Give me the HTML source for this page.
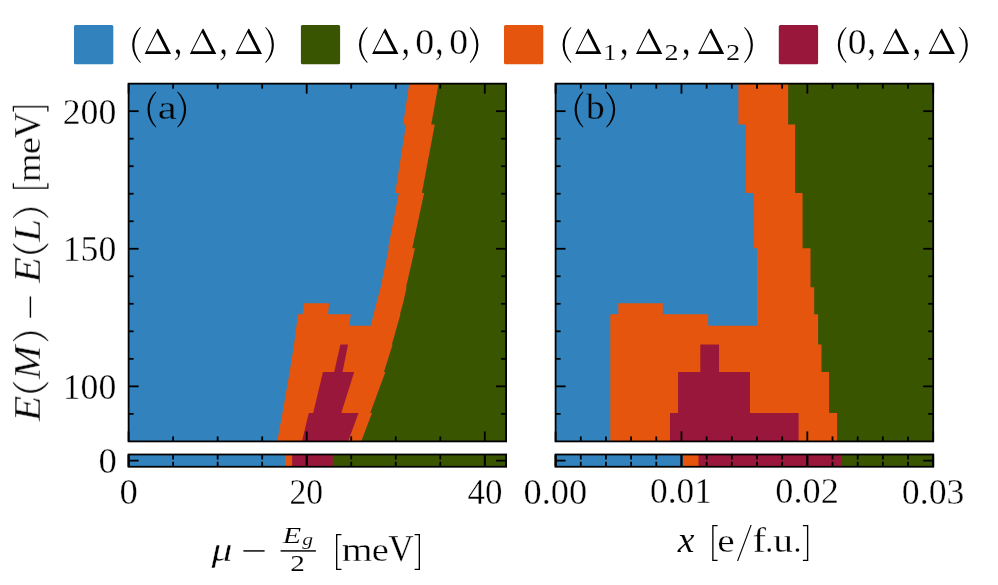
<!DOCTYPE html>
<html><head><meta charset="utf-8"><title>Phase diagram</title>
<style>
html,body{margin:0;padding:0;background:#fff;}
body{width:998px;height:585px;overflow:hidden;font-family:"Liberation Serif",serif;}
svg{display:block;}
text{font-family:"Liberation Serif",serif;fill:#000;}
.i{font-style:italic;}
</style></head><body>
<svg width="998" height="585" viewBox="0 0 998 585">
<rect x="0" y="0" width="998" height="585" fill="#fff"/>
<g>
<rect x="128.6" y="83.65" width="377.5" height="357.75" fill="#3182bd"/>
<polygon points="409.18,83.65 403.14,124.45 406.05,124.45 395.18,193 398.8,193 388.14,248.3 388.84,248.3 380.66,287.2 380.65,287.2 376.35,303.3 303.92,303.3 302.63,314.25 297.98,314.25 296.45,325.85 296.45,325.85 294.03,344.5 294.04,344.5 289.64,372 289.64,372 282.49,413 282.49,413 277.23,441.4 506.1,441.4 506.1,83.65" fill="#e6550d"/>
<polygon points="329.24,302 376.67,302 376.35,303.3 373.66,314.25 328.12,314.25 329.12,303.3" fill="#3182bd"/>
<polygon points="350.84,314.25 350.84,314.25 350.84,312.95 373.66,312.95 373.66,314.25 373.66,314.25 370.71,325.85 349.05,325.85" fill="#3182bd"/>
<polygon points="438.57,83.65 431.25,124.45 434.76,124.45 421.89,193 424.11,193 412.24,248.3 414.95,248.3 406.05,287.2 406.66,287.2 403.04,303.3 403.06,303.3 399.97,314.25 400.47,314.25 397.2,325.85 397.2,325.85 391.87,344.5 392.58,344.5 383.93,372 385.39,372 370.23,413 371.99,413 361.15,441.4 506.1,441.4 506.1,83.65" fill="#3a5500"/>
<polygon points="340.41,344.5 334.16,372 322.96,372 313.22,413 308.82,413 301.9,441.4 348.1,441.4 358.58,413 341.26,413 354.18,372 342.55,372 348.05,344.5" fill="#99173a"/>
<rect x="555.6" y="83.65" width="377.6" height="357.75" fill="#3182bd"/>
<polygon points="738.4,83.65 738.4,124.45 745.9,124.45 745.9,193 754,193 754,248.3 757,248.3 757,287.2 757,287.2 757,303.3 618.3,303.3 618.3,314.25 610.3,314.25 610.3,325.85 610.3,325.85 610.3,344.5 610.3,344.5 610.3,372 610.3,372 610.3,413 610.3,413 610.3,441.4 933.2,441.4 933.2,83.65" fill="#e6550d"/>
<polygon points="662.8,302 757,302 757,303.3 757,314.25 662.8,314.25 662.8,303.3" fill="#3182bd"/>
<polygon points="708.2,314.25 708.2,314.25 708.2,312.95 757,312.95 757,314.25 757,314.25 757,325.85 708.2,325.85" fill="#3182bd"/>
<polygon points="788.15,83.65 788.15,124.45 795.15,124.45 795.15,193 802.6,193 802.6,248.3 810.5,248.3 810.5,287.2 814.2,287.2 814.2,303.3 814.2,303.3 814.2,314.25 818.1,314.25 818.1,325.85 818.1,325.85 818.1,344.5 821.5,344.5 821.5,372 829.05,372 829.05,413 837.1,413 837.1,441.4 933.2,441.4 933.2,83.65" fill="#3a5500"/>
<polygon points="700.3,344.5 700.3,372 678.1,372 678.1,413 670,413 670,441.4 798.6,441.4 798.6,413 750,413 750,372 719.05,372 719.05,344.5" fill="#99173a"/>
<rect x="128.6" y="454.5" width="377.5" height="12.25" fill="#3182bd"/>
<rect x="285.1" y="454.5" width="221" height="12.25" fill="#e6550d"/>
<rect x="292.1" y="454.5" width="214" height="12.25" fill="#99173a"/>
<rect x="332.8" y="454.5" width="173.3" height="12.25" fill="#3a5500"/>
<rect x="555.6" y="454.5" width="377.6" height="12.25" fill="#3182bd"/>
<rect x="683.1" y="454.5" width="250.1" height="12.25" fill="#e6550d"/>
<rect x="698.5" y="454.5" width="234.7" height="12.25" fill="#99173a"/>
<rect x="842" y="454.5" width="91.2" height="12.25" fill="#3a5500"/>
</g>
<g stroke="#000" stroke-width="1.8" fill="none" stroke-linecap="butt">
<path d="M128.6 441.4L128.6 431.4"/>
<path d="M128.6 83.65L128.6 93.65"/>
<path d="M128.6 466.75L128.6 454.5"/>
<path d="M128.6 454.5L128.6 466.75"/>
<path d="M306.7 441.4L306.7 431.4"/>
<path d="M306.7 83.65L306.7 93.65"/>
<path d="M306.7 466.75L306.7 454.5"/>
<path d="M306.7 454.5L306.7 466.75"/>
<path d="M484.8 441.4L484.8 431.4"/>
<path d="M484.8 83.65L484.8 93.65"/>
<path d="M484.8 466.75L484.8 454.5"/>
<path d="M484.8 454.5L484.8 466.75"/>
<path d="M173.12 441.4L173.12 436.4"/>
<path d="M173.12 83.65L173.12 88.65"/>
<path d="M173.12 466.75L173.12 461.75"/>
<path d="M173.12 454.5L173.12 459.5"/>
<path d="M217.65 441.4L217.65 436.4"/>
<path d="M217.65 83.65L217.65 88.65"/>
<path d="M217.65 466.75L217.65 461.75"/>
<path d="M217.65 454.5L217.65 459.5"/>
<path d="M262.18 441.4L262.18 436.4"/>
<path d="M262.18 83.65L262.18 88.65"/>
<path d="M262.18 466.75L262.18 461.75"/>
<path d="M262.18 454.5L262.18 459.5"/>
<path d="M351.23 441.4L351.23 436.4"/>
<path d="M351.23 83.65L351.23 88.65"/>
<path d="M351.23 466.75L351.23 461.75"/>
<path d="M351.23 454.5L351.23 459.5"/>
<path d="M395.75 441.4L395.75 436.4"/>
<path d="M395.75 83.65L395.75 88.65"/>
<path d="M395.75 466.75L395.75 461.75"/>
<path d="M395.75 454.5L395.75 459.5"/>
<path d="M440.28 441.4L440.28 436.4"/>
<path d="M440.28 83.65L440.28 88.65"/>
<path d="M440.28 466.75L440.28 461.75"/>
<path d="M440.28 454.5L440.28 459.5"/>
<path d="M555.6 441.4L555.6 431.4"/>
<path d="M555.6 83.65L555.6 93.65"/>
<path d="M555.6 466.75L555.6 454.5"/>
<path d="M555.6 454.5L555.6 466.75"/>
<path d="M681.47 441.4L681.47 431.4"/>
<path d="M681.47 83.65L681.47 93.65"/>
<path d="M681.47 466.75L681.47 454.5"/>
<path d="M681.47 454.5L681.47 466.75"/>
<path d="M807.33 441.4L807.33 431.4"/>
<path d="M807.33 83.65L807.33 93.65"/>
<path d="M807.33 466.75L807.33 454.5"/>
<path d="M807.33 454.5L807.33 466.75"/>
<path d="M933.2 441.4L933.2 431.4"/>
<path d="M933.2 83.65L933.2 93.65"/>
<path d="M933.2 466.75L933.2 454.5"/>
<path d="M933.2 454.5L933.2 466.75"/>
<path d="M580.77 441.4L580.77 436.4"/>
<path d="M580.77 83.65L580.77 88.65"/>
<path d="M580.77 466.75L580.77 461.75"/>
<path d="M580.77 454.5L580.77 459.5"/>
<path d="M605.95 441.4L605.95 436.4"/>
<path d="M605.95 83.65L605.95 88.65"/>
<path d="M605.95 466.75L605.95 461.75"/>
<path d="M605.95 454.5L605.95 459.5"/>
<path d="M631.12 441.4L631.12 436.4"/>
<path d="M631.12 83.65L631.12 88.65"/>
<path d="M631.12 466.75L631.12 461.75"/>
<path d="M631.12 454.5L631.12 459.5"/>
<path d="M656.29 441.4L656.29 436.4"/>
<path d="M656.29 83.65L656.29 88.65"/>
<path d="M656.29 466.75L656.29 461.75"/>
<path d="M656.29 454.5L656.29 459.5"/>
<path d="M706.64 441.4L706.64 436.4"/>
<path d="M706.64 83.65L706.64 88.65"/>
<path d="M706.64 466.75L706.64 461.75"/>
<path d="M706.64 454.5L706.64 459.5"/>
<path d="M731.81 441.4L731.81 436.4"/>
<path d="M731.81 83.65L731.81 88.65"/>
<path d="M731.81 466.75L731.81 461.75"/>
<path d="M731.81 454.5L731.81 459.5"/>
<path d="M756.99 441.4L756.99 436.4"/>
<path d="M756.99 83.65L756.99 88.65"/>
<path d="M756.99 466.75L756.99 461.75"/>
<path d="M756.99 454.5L756.99 459.5"/>
<path d="M782.16 441.4L782.16 436.4"/>
<path d="M782.16 83.65L782.16 88.65"/>
<path d="M782.16 466.75L782.16 461.75"/>
<path d="M782.16 454.5L782.16 459.5"/>
<path d="M832.51 441.4L832.51 436.4"/>
<path d="M832.51 83.65L832.51 88.65"/>
<path d="M832.51 466.75L832.51 461.75"/>
<path d="M832.51 454.5L832.51 459.5"/>
<path d="M857.68 441.4L857.68 436.4"/>
<path d="M857.68 83.65L857.68 88.65"/>
<path d="M857.68 466.75L857.68 461.75"/>
<path d="M857.68 454.5L857.68 459.5"/>
<path d="M882.85 441.4L882.85 436.4"/>
<path d="M882.85 83.65L882.85 88.65"/>
<path d="M882.85 466.75L882.85 461.75"/>
<path d="M882.85 454.5L882.85 459.5"/>
<path d="M908.03 441.4L908.03 436.4"/>
<path d="M908.03 83.65L908.03 88.65"/>
<path d="M908.03 466.75L908.03 461.75"/>
<path d="M908.03 454.5L908.03 459.5"/>
<path d="M128.6 413.88L133.6 413.88"/>
<path d="M506.1 413.88L501.1 413.88"/>
<path d="M128.6 386.36L138.6 386.36"/>
<path d="M506.1 386.36L496.1 386.36"/>
<path d="M128.6 358.84L133.6 358.84"/>
<path d="M506.1 358.84L501.1 358.84"/>
<path d="M128.6 331.32L133.6 331.32"/>
<path d="M506.1 331.32L501.1 331.32"/>
<path d="M128.6 303.8L133.6 303.8"/>
<path d="M506.1 303.8L501.1 303.8"/>
<path d="M128.6 276.28L133.6 276.28"/>
<path d="M506.1 276.28L501.1 276.28"/>
<path d="M128.6 248.77L138.6 248.77"/>
<path d="M506.1 248.77L496.1 248.77"/>
<path d="M128.6 221.25L133.6 221.25"/>
<path d="M506.1 221.25L501.1 221.25"/>
<path d="M128.6 193.73L133.6 193.73"/>
<path d="M506.1 193.73L501.1 193.73"/>
<path d="M128.6 166.21L133.6 166.21"/>
<path d="M506.1 166.21L501.1 166.21"/>
<path d="M128.6 138.69L133.6 138.69"/>
<path d="M506.1 138.69L501.1 138.69"/>
<path d="M128.6 111.17L138.6 111.17"/>
<path d="M506.1 111.17L496.1 111.17"/>
<path d="M128.6 460.62L138.6 460.62"/>
<path d="M506.1 460.62L496.1 460.62"/>
<path d="M555.6 413.88L560.6 413.88"/>
<path d="M933.2 413.88L928.2 413.88"/>
<path d="M555.6 386.36L565.6 386.36"/>
<path d="M933.2 386.36L923.2 386.36"/>
<path d="M555.6 358.84L560.6 358.84"/>
<path d="M933.2 358.84L928.2 358.84"/>
<path d="M555.6 331.32L560.6 331.32"/>
<path d="M933.2 331.32L928.2 331.32"/>
<path d="M555.6 303.8L560.6 303.8"/>
<path d="M933.2 303.8L928.2 303.8"/>
<path d="M555.6 276.28L560.6 276.28"/>
<path d="M933.2 276.28L928.2 276.28"/>
<path d="M555.6 248.77L565.6 248.77"/>
<path d="M933.2 248.77L923.2 248.77"/>
<path d="M555.6 221.25L560.6 221.25"/>
<path d="M933.2 221.25L928.2 221.25"/>
<path d="M555.6 193.73L560.6 193.73"/>
<path d="M933.2 193.73L928.2 193.73"/>
<path d="M555.6 166.21L560.6 166.21"/>
<path d="M933.2 166.21L928.2 166.21"/>
<path d="M555.6 138.69L560.6 138.69"/>
<path d="M933.2 138.69L928.2 138.69"/>
<path d="M555.6 111.17L565.6 111.17"/>
<path d="M933.2 111.17L923.2 111.17"/>
<path d="M555.6 460.62L565.6 460.62"/>
<path d="M933.2 460.62L923.2 460.62"/>
<rect x="128.6" y="83.65" width="377.5" height="357.75"/>
<rect x="128.6" y="454.5" width="377.5" height="12.25"/>
<rect x="555.6" y="83.65" width="377.6" height="357.75"/>
<rect x="555.6" y="454.5" width="377.6" height="12.25"/>
</g>
<g opacity="0.999">
<rect x="74" y="24.9" width="39.3" height="39.3" rx="1.5" fill="#3182bd"/>
<rect x="300.9" y="24.9" width="39.2" height="39.3" rx="1.5" fill="#3a5500"/>
<rect x="504" y="24.9" width="39.3" height="39.3" rx="1.5" fill="#e6550d"/>
<rect x="778.8" y="24.9" width="39.3" height="39.3" rx="1.5" fill="#99173a"/>
<path d="M140.3 27A23.939 23.939 0 0 0 140.3 62.9L140.85 62.3A26.406 26.406 0 0 1 140.85 27.6Z"/>
<path fill-rule="evenodd" d="M144.7 54L157.471 28.7L158.271 28.7L171.1 54ZM147.128 51.3L156.787 32.5L166.447 51.3Z"/>
<text transform="matrix(0.345 0 0 0.451 173.821 54.135)" font-size="100" stroke="#fff" stroke-width="0.88">,</text>
<path fill-rule="evenodd" d="M189.9 54L202.671 28.7L203.471 28.7L216.3 54ZM192.328 51.3L201.987 32.5L211.647 51.3Z"/>
<text transform="matrix(0.352 0 0 0.451 219.293 54.135)" font-size="100" stroke="#fff" stroke-width="0.872">,</text>
<path fill-rule="evenodd" d="M235.6 54L248.371 28.7L249.171 28.7L262 54ZM238.028 51.3L247.687 32.5L257.347 51.3Z"/>
<path d="M265.8 27A23.939 23.939 0 0 1 265.8 62.9L265.25 62.3A26.406 26.406 0 0 0 265.25 27.6Z"/>
<path d="M367.1 27A23.939 23.939 0 0 0 367.1 62.9L367.65 62.3A26.406 26.406 0 0 1 367.65 27.6Z"/>
<path fill-rule="evenodd" d="M372.1 54L384.821 28.7L385.621 28.7L398.4 54ZM374.518 51.3L384.142 32.5L393.765 51.3Z"/>
<text transform="matrix(0.345 0 0 0.451 401.421 54.135)" font-size="100" stroke="#fff" stroke-width="0.88">,</text>
<text transform="matrix(0.379 0 0 0.366 415.186 54.334)" font-size="100" stroke="#fff" stroke-width="0.94">0</text>
<text transform="matrix(0.345 0 0 0.451 434.921 54.135)" font-size="100" stroke="#fff" stroke-width="0.88">,</text>
<text transform="matrix(0.376 0 0 0.366 449.295 54.334)" font-size="100" stroke="#fff" stroke-width="0.943">0</text>
<path d="M470.3 27A23.939 23.939 0 0 1 470.3 62.9L469.75 62.3A26.406 26.406 0 0 0 469.75 27.6Z"/>
<path d="M570.9 27A23.56 23.56 0 0 0 570.9 62.9L571.45 62.3A25.814 25.814 0 0 1 571.45 27.6Z"/>
<path fill-rule="evenodd" d="M575.2 54L587.871 28.7L588.671 28.7L601.4 54ZM577.609 51.3L587.196 32.5L596.782 51.3Z"/>
<text transform="matrix(0.263 0 0 0.24 603.234 59.7)" font-size="100" stroke="#fff" stroke-width="0.597">1</text>
<text transform="matrix(0.359 0 0 0.451 619.866 54.135)" font-size="100" stroke="#fff" stroke-width="0.865">,</text>
<path fill-rule="evenodd" d="M636 54L648.721 28.7L649.521 28.7L662.3 54ZM638.418 51.3L648.042 32.5L657.665 51.3Z"/>
<text transform="matrix(0.282 0 0 0.238 664.429 59.7)" font-size="100" stroke="#fff" stroke-width="0.577">2</text>
<text transform="matrix(0.359 0 0 0.451 681.766 54.135)" font-size="100" stroke="#fff" stroke-width="0.865">,</text>
<path fill-rule="evenodd" d="M698 54L710.671 28.7L711.471 28.7L724.2 54ZM700.409 51.3L709.996 32.5L719.582 51.3Z"/>
<text transform="matrix(0.285 0 0 0.238 726.117 59.7)" font-size="100" stroke="#fff" stroke-width="0.574">2</text>
<path d="M744.7 27A23.746 23.746 0 0 1 744.7 62.9L744.15 62.3A26.105 26.105 0 0 0 744.15 27.6Z"/>
<path d="M846 27A23.746 23.746 0 0 0 846 62.9L846.55 62.3A26.105 26.105 0 0 1 846.55 27.6Z"/>
<text transform="matrix(0.374 0 0 0.366 847.705 54.334)" font-size="100" stroke="#fff" stroke-width="0.946">0</text>
<text transform="matrix(0.352 0 0 0.451 867.193 54.135)" font-size="100" stroke="#fff" stroke-width="0.872">,</text>
<path fill-rule="evenodd" d="M882.8 54L895.571 28.7L896.371 28.7L909.2 54ZM885.228 51.3L894.887 32.5L904.547 51.3Z"/>
<text transform="matrix(0.352 0 0 0.451 912.393 54.135)" font-size="100" stroke="#fff" stroke-width="0.872">,</text>
<path fill-rule="evenodd" d="M928.6 54L941.321 28.7L942.121 28.7L954.9 54ZM931.018 51.3L940.642 32.5L950.265 51.3Z"/>
<path d="M959.6 27A23.746 23.746 0 0 1 959.6 62.9L959.05 62.3A26.105 26.105 0 0 0 959.05 27.6Z"/>
<text transform="matrix(0.357 0 0 0.366 62.694 123.834)" font-size="100" stroke="#fff" stroke-width="0.968">200</text>
<text transform="matrix(0.357 0 0 0.366 62.694 261.334)" font-size="100" stroke="#fff" stroke-width="0.968">150</text>
<text transform="matrix(0.357 0 0 0.366 62.694 398.834)" font-size="100" stroke="#fff" stroke-width="0.968">100</text>
<text transform="matrix(0.367 0 0 0.366 98.433 473.184)" font-size="100" stroke="#fff" stroke-width="0.956">0</text>
<text transform="matrix(0.367 0 0 0.366 119.533 504.334)" font-size="100" stroke="#fff" stroke-width="0.956">0</text>
<text transform="matrix(0.337 0 0 0.366 289.485 504.334)" font-size="100" stroke="#fff" stroke-width="0.996">20</text>
<text transform="matrix(0.35 0 0 0.366 467.6 504.334)" font-size="100" stroke="#fff" stroke-width="0.978">40</text>
<text transform="matrix(0.363 0 0 0.363 523.549 504.155)" font-size="100" stroke="#fff" stroke-width="0.964">0.00</text>
<text transform="matrix(0.354 0 0 0.353 649.984 503.471)" font-size="100" stroke="#fff" stroke-width="0.99">0.01</text>
<text transform="matrix(0.363 0 0 0.353 775.35 503.471)" font-size="100" stroke="#fff" stroke-width="0.978">0.02</text>
<text transform="matrix(0.357 0 0 0.363 901.87 504.155)" font-size="100" stroke="#fff" stroke-width="0.971">0.03</text>
<text transform="matrix(0.417 0 0 0.337 211.6 560.916)" font-size="100" class="i" stroke="#fff" stroke-width="0.928">μ</text>
<rect x="243.4" y="550.2" width="21.2" height="1.45"/>
<text transform="matrix(0.301 0 0 0.238 282.701 542.6)" font-size="100" class="i" stroke="#fff" stroke-width="0.445">E</text>
<text transform="matrix(0.217 0 0 0.162 302.3 545.203)" font-size="100" class="i" stroke="#fff" stroke-width="0.634">g</text>
<rect x="280.6" y="550.2" width="35.3" height="1.45"/>
<text transform="matrix(0.292 0 0 0.239 290.284 571.4)" font-size="100" stroke="#fff" stroke-width="0.451">2</text>
<path d="M336 534H341.4V535.25H337.35V568.65H341.4V569.9H336Z"/>
<text transform="matrix(0.396 0 0 0.338 341.808 561)" font-size="100" stroke="#fff" stroke-width="0.953">m</text>
<text transform="matrix(0.384 0 0 0.344 371.765 561.056)" font-size="100" stroke="#fff" stroke-width="0.962">e</text>
<text transform="matrix(0.354 0 0 0.374 388.246 560.938)" font-size="100" stroke="#fff" stroke-width="0.961">V</text>
<path d="M420 534H414.6V535.25H418.65V568.65H414.6V569.9H420Z"/>
<text transform="matrix(0.375 0 0 0.352 677.675 552.3)" font-size="100" class="i" stroke="#fff" stroke-width="0.275">x</text>
<path d="M712.2 525H717.6V526.25H713.55V559.65H717.6V560.9H712.2Z"/>
<text transform="matrix(0.392 0 0 0.344 717.232 552.056)" font-size="100" stroke="#fff" stroke-width="0.952">e</text>
<path d="M737.0 561.0L750.5 525.0L751.7 525.0L738.2 561.0Z"/>
<text transform="matrix(0.407 0 0 0.363 752.38 552)" font-size="100" stroke="#fff" stroke-width="0.91">f</text>
<text transform="matrix(0.317 0 0 0.33 765.242 551.504)" font-size="100" stroke="#fff" stroke-width="1.082">.</text>
<text transform="matrix(0.394 0 0 0.344 773.21 552.056)" font-size="100" stroke="#fff" stroke-width="0.949">u</text>
<text transform="matrix(0.317 0 0 0.33 793.542 551.504)" font-size="100" stroke="#fff" stroke-width="1.082">.</text>
<path d="M808.3 525H802.9V526.25H806.95V559.65H802.9V560.9H808.3Z"/>
<g transform="translate(0 421.8) rotate(-90)">
<text transform="matrix(0.418 0 0 0.371 0.418 39.7)" font-size="100" class="i" stroke="#fff" stroke-width="0.887">E</text>
<path d="M39.3 12.7A21.001 21.001 0 0 0 39.3 48.6L39.85 48A21.957 21.957 0 0 1 39.85 13.3Z"/>
<text transform="matrix(0.402 0 0 0.374 42.802 39.7)" font-size="100" class="i" stroke="#fff" stroke-width="0.902">M</text>
<path d="M81.1 12.7A22.253 22.253 0 0 1 81.1 48.6L80.55 48A23.818 23.818 0 0 0 80.55 13.3Z"/>
<rect x="104.2" y="29.68" width="21.2" height="1.45"/>
<text transform="matrix(0.423 0 0 0.371 139.023 39.7)" font-size="100" class="i" stroke="#fff" stroke-width="0.881">E</text>
<path d="M177.9 12.7A21.339 21.339 0 0 0 177.9 48.6L178.45 48A22.455 22.455 0 0 1 178.45 13.3Z"/>
<text transform="matrix(0.41 0 0 0.374 180.11 39.7)" font-size="100" class="i" stroke="#fff" stroke-width="0.893">L</text>
<path d="M204.5 12.7A21.708 21.708 0 0 1 204.5 48.6L203.95 48A23.002 23.002 0 0 0 203.95 13.3Z"/>
<path d="M233.1 12.7H238.6V13.95H234.45V47.35H238.6V48.6H233.1Z"/>
<text transform="matrix(0.368 0 0 0.338 239.865 39.7)" font-size="100" stroke="#fff" stroke-width="0.992">m</text>
<text transform="matrix(0.389 0 0 0.344 267.543 39.756)" font-size="100" stroke="#fff" stroke-width="0.955">e</text>
<text transform="matrix(0.356 0 0 0.374 283.844 39.638)" font-size="100" stroke="#fff" stroke-width="0.959">V</text>
<path d="M315.8 12.7H310.3V13.95H314.45V47.35H310.3V48.6H315.8Z"/>
</g>
<path d="M155.8 91.6A23.56 23.56 0 0 0 155.8 127.5L156.35 126.9A25.814 25.814 0 0 1 156.35 92.2Z"/>
<text transform="matrix(0.428 0 0 0.345 157.803 118.655)" font-size="100" stroke="#3182bd" stroke-width="0.905">a</text>
<path d="M177.8 91.6A23.56 23.56 0 0 1 177.8 127.5L177.25 126.9A25.814 25.814 0 0 0 177.25 92.2Z"/>
<path d="M582.9 91.6A23.56 23.56 0 0 0 582.9 127.5L583.45 126.9A25.814 25.814 0 0 1 583.45 92.2Z"/>
<text transform="matrix(0.374 0 0 0.361 585.9 118.639)" font-size="100" stroke="#3182bd" stroke-width="0.952">b</text>
<path d="M606.7 91.6A23.203 23.203 0 0 1 606.7 127.5L606.15 126.9A25.263 25.263 0 0 0 606.15 92.2Z"/>
</g>
</svg>
</body></html>
